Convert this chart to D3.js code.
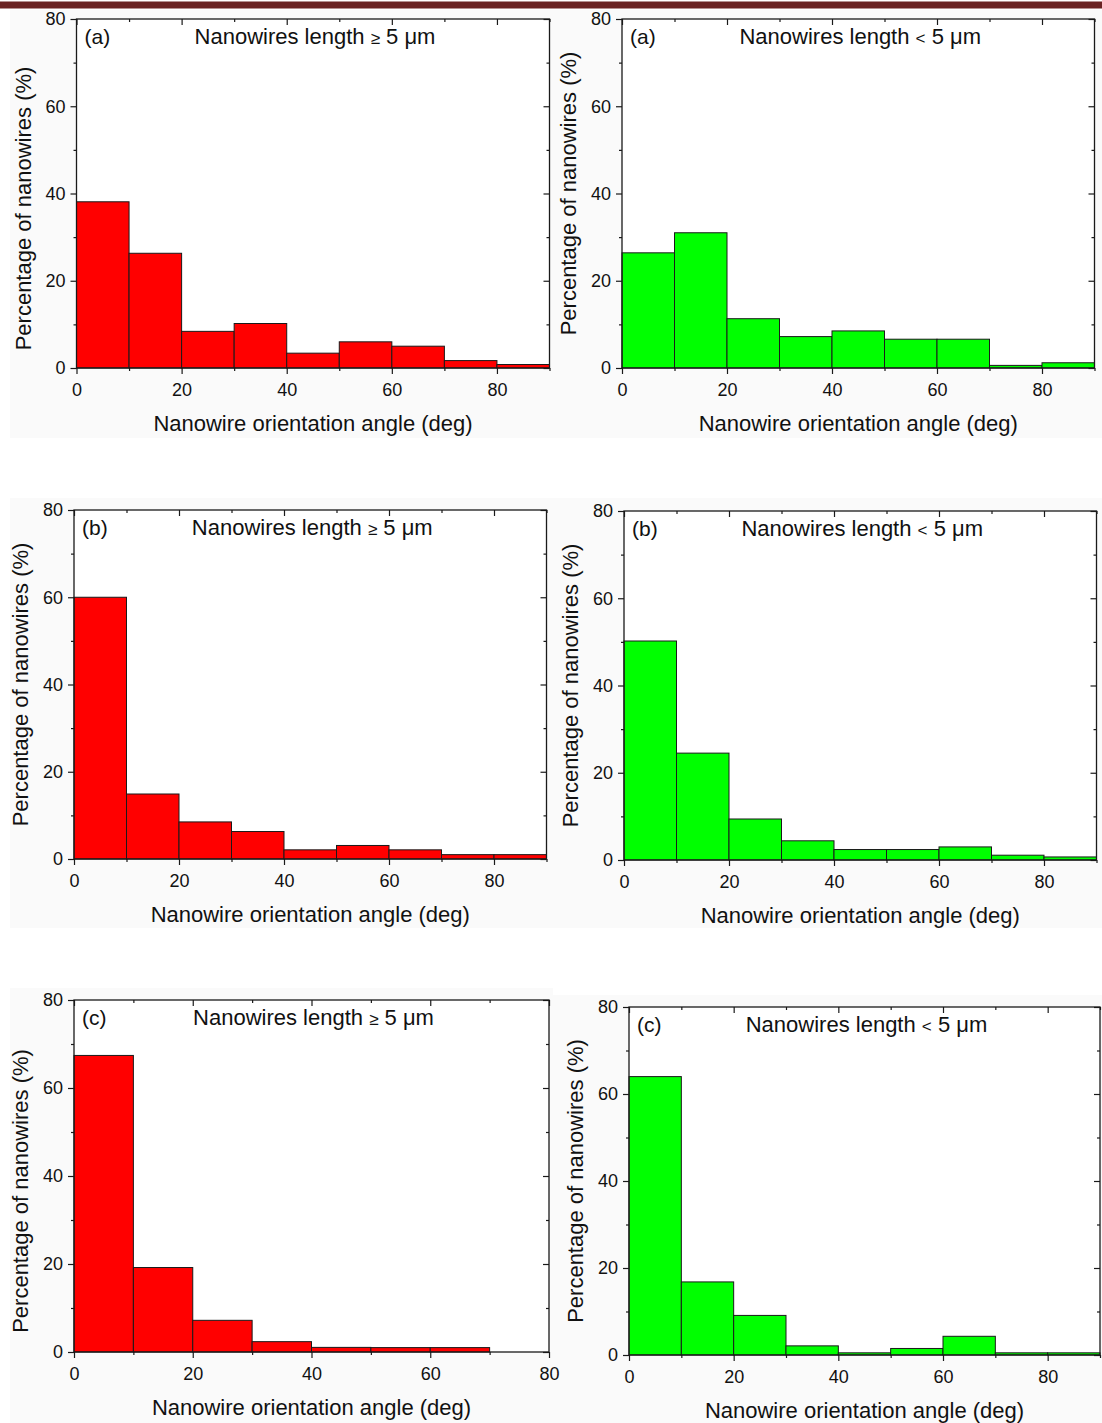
<!DOCTYPE html>
<html>
<head>
<meta charset="utf-8">
<script src="https://cdn.jsdelivr.net/npm/d3@7"></script>
<style>
  html, body { margin: 0; padding: 0; background: #ffffff; }
  svg { display: block; }
  text { font-family: "Liberation Sans", Arial, sans-serif; fill: #111; }
</style>
</head>
<body>
<svg id="fig" width="1102" height="1423"></svg>
<script>
// Orientation-angle histograms: bins are 10 degrees wide, starting at these angles
const binStarts = [0, 10, 20, 30, 40, 50, 60, 70, 80];
const binStartsC = [0, 10, 20, 30, 40, 50, 60];
const binWidth = 10;

// Percentage of nanowires per bin
const longA  = [38.1, 26.3, 8.4, 10.2, 3.4, 6.0, 5.0, 1.7, 0.8];
const shortA = [26.4, 31.0, 11.3, 7.2, 8.5, 6.6, 6.6, 0.6, 1.2];
const longB  = [60.0, 14.9, 8.5, 6.3, 2.1, 3.1, 2.1, 1.0, 1.0];
const shortB = [50.2, 24.5, 9.4, 4.4, 2.4, 2.4, 3.0, 1.1, 0.7];
const longC  = [67.4, 19.2, 7.2, 2.35, 1.05, 1.0, 1.0];
const shortC = [64.0, 16.8, 9.1, 2.1, 0.5, 1.5, 4.3, 0.5, 0.5];

// Axis ticks
const yMajor = [0, 20, 40, 60, 80];
const yMinor = [10, 30, 50, 70];
const xMajor = [0, 20, 40, 60, 80];
const xMinor90 = [10, 30, 50, 70, 90];
const xMinor80 = [10, 30, 50, 70];

// Text
const panelTags = ["(a)", "(b)", "(c)"];
const lengthLong = ["Nanowires length ", "\u2265", " 5 \u03bcm"];
const lengthShort = ["Nanowires length ", "<", " 5 \u03bcm"];
const xTitle = "Nanowire orientation angle (deg)";
const yTitle = "Percentage of nanowires (%)";

const RED = "#ff0000";
const GREEN = "#00ff00";

const panels = [
  { tag: 0, label: lengthLong,  starts: binStarts,  values: longA,  color: RED,   xMax: 90, xMinor: xMinor90,
    box: [76.5, 549.5, 19, 368], bg: [10, 553, 10, 438], yShift: 15 },
  { tag: 0, label: lengthShort, starts: binStarts,  values: shortA, color: GREEN, xMax: 90, xMinor: xMinor90,
    box: [622, 1094.5, 19, 368], bg: [553, 1102, 10, 438], yShift: 0 },
  { tag: 1, label: lengthLong,  starts: binStarts,  values: longB,  color: RED,   xMax: 90, xMinor: xMinor90,
    box: [74, 546.5, 510, 859], bg: [10, 553, 498, 928], yShift: 0 },
  { tag: 1, label: lengthShort, starts: binStarts,  values: shortB, color: GREEN, xMax: 90, xMinor: xMinor90,
    box: [624, 1096.5, 511, 860], bg: [553, 1102, 498, 928], yShift: 0 },
  { tag: 2, label: lengthLong,  starts: binStartsC, values: longC,  color: RED,   xMax: 80, xMinor: xMinor80,
    box: [74, 549, 1000, 1352], bg: [10, 553, 988, 1423], yShift: 15 },
  { tag: 2, label: lengthShort, starts: binStarts,  values: shortC, color: GREEN, xMax: 90, xMinor: xMinor90,
    box: [629, 1100, 1007, 1355], bg: [553, 1102, 995, 1423], yShift: 0 }
];

const svg = d3.select("#fig");

// faint page tint behind each panel
panels.forEach(p => {
  svg.append("rect")
    .attr("x", p.bg[0]).attr("y", p.bg[2])
    .attr("width", p.bg[1] - p.bg[0]).attr("height", p.bg[3] - p.bg[2])
    .attr("fill", "#fafafa");
});

// dark header band
svg.append("rect").attr("x", 0).attr("y", 1.5).attr("width", 1102).attr("height", 7)
  .attr("fill", "#6a2323");

panels.forEach(p => {
  const [x0, x1, y0, y1] = p.box;
  const x = d3.scaleLinear().domain([0, p.xMax]).range([x0, x1]);
  const y = d3.scaleLinear().domain([0, 80]).range([y1, y0]);
  const g = svg.append("g");

  g.append("rect").attr("x", x0).attr("y", y0).attr("width", x1 - x0).attr("height", y1 - y0)
    .attr("fill", "#ffffff");

  // histogram bars
  g.selectAll("rect.bar").data(p.values).join("rect")
    .attr("class", "bar")
    .attr("x", (d, i) => x(p.starts[i]))
    .attr("width", (d, i) => x(p.starts[i] + binWidth) - x(p.starts[i]))
    .attr("y", d => y(d))
    .attr("height", d => y(0) - y(d))
    .attr("fill", p.color)
    .attr("stroke", "#1a1a1a")
    .attr("stroke-width", 1);

  const styleAxis = sel => {
    sel.select(".domain").remove();
    sel.selectAll("line").attr("stroke", "#1a1a1a").attr("stroke-width", 1.2);
    sel.selectAll("text").attr("font-size", 18).attr("fill", "#111")
      .attr("font-family", '"Liberation Sans", Arial, sans-serif');
  };

  // bottom axis (outward ticks, labelled)
  g.append("g").attr("transform", `translate(0,${y1})`)
    .call(d3.axisBottom(x).tickValues(xMajor).tickSize(6).tickPadding(9).tickFormat(d3.format("d")))
    .call(styleAxis);
  g.append("g").attr("transform", `translate(0,${y1})`)
    .call(d3.axisBottom(x).tickValues(p.xMinor).tickSize(3).tickFormat(""))
    .call(styleAxis);
  // left axis
  g.append("g").attr("transform", `translate(${x0},0)`)
    .call(d3.axisLeft(y).tickValues(yMajor).tickSize(6).tickPadding(5).tickFormat(d3.format("d")))
    .call(styleAxis);
  g.append("g").attr("transform", `translate(${x0},0)`)
    .call(d3.axisLeft(y).tickValues(yMinor).tickSize(3).tickFormat(""))
    .call(styleAxis);
  // top and right axes: mirrored ticks, no labels
  g.append("g").attr("transform", `translate(0,${y0})`)
    .call(d3.axisTop(x).tickValues(xMajor).tickSize(-6).tickFormat(""))
    .call(styleAxis);
  g.append("g").attr("transform", `translate(0,${y0})`)
    .call(d3.axisTop(x).tickValues(p.xMinor).tickSize(-3).tickFormat(""))
    .call(styleAxis);
  g.append("g").attr("transform", `translate(${x1},0)`)
    .call(d3.axisRight(y).tickValues(yMajor).tickSize(-6).tickFormat(""))
    .call(styleAxis);
  g.append("g").attr("transform", `translate(${x1},0)`)
    .call(d3.axisRight(y).tickValues(yMinor).tickSize(-3).tickFormat(""))
    .call(styleAxis);

  // frame
  g.append("rect").attr("x", x0).attr("y", y0).attr("width", x1 - x0).attr("height", y1 - y0)
    .attr("fill", "none").attr("stroke", "#1a1a1a").attr("stroke-width", 1.3);

  // panel tag and length class
  g.append("text").attr("x", x0 + 8).attr("y", y0 + 25)
    .attr("font-size", 21).text(panelTags[p.tag]);
  const t = g.append("text").attr("x", (x0 + x1) / 2 + 2).attr("y", y0 + 25)
    .attr("text-anchor", "middle").attr("font-size", 22);
  t.append("tspan").text(p.label[0]);
  t.append("tspan").attr("font-size", 17).text(p.label[1]);
  t.append("tspan").text(p.label[2]);

  // axis titles
  g.append("text").attr("x", (x0 + x1) / 2).attr("y", y1 + 63)
    .attr("text-anchor", "middle").attr("font-size", 22).text(xTitle);
  const yc = (y0 + y1) / 2 + p.yShift;
  g.append("text")
    .attr("transform", `translate(${x0 - 46},${yc}) rotate(-90)`)
    .attr("text-anchor", "middle").attr("font-size", 22).text(yTitle);
});
</script>
</body>
</html>
